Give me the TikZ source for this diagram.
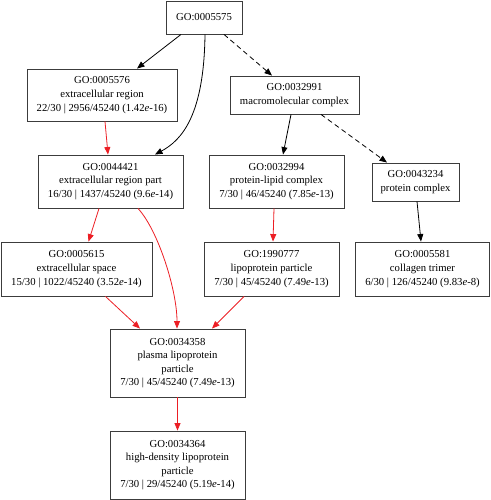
\documentclass[tikz,border=0pt]{standalone}
\usepackage{fontspec}
\setmainfont{Liberation Serif}
\usetikzlibrary{arrows.meta}
\definecolor{edgered}{RGB}{236,30,36}
\definecolor{boxgray}{RGB}{60,60,60}
\tikzset{
term/.style={draw=boxgray, line width=0.9pt, align=center, inner sep=0pt,
  font=\fontsize{10.7}{13.6}\selectfont},
isa/.style={-{Triangle[length=7.5pt,width=6pt]}, line width=0.8pt, black},
partof/.style={isa, dash pattern=on 5pt off 3.5pt},
hit/.style={isa, edgered}
}

\begin{document}
\begin{tikzpicture}[x=1pt,y=-1pt]
  \useasboundingbox (0,0) rectangle (490,500);
  \node[term, minimum width=76pt, minimum height=33pt] (go5575) at (204,17.5) {GO:0005575};
  \node[term, minimum width=150pt, minimum height=52pt] (go5576) at (102,95) {GO:0005576\\extracellular region\\22/30 | 2956/45240 (1.42\textit{e}-16)};
  \node[term, minimum width=129pt, minimum height=38pt] (go32991) at (294.5,95) {GO:0032991\\macromolecular complex};
  \node[term, minimum width=145pt, minimum height=53pt] (go44421) at (110.5,181.5) {GO:0044421\\extracellular region part\\16/30 | 1437/45240 (9.6\textit{e}-14)};
  \node[term, minimum width=135pt, minimum height=53pt] (go32994) at (276.5,181.5) {GO:0032994\\protein-lipid complex\\7/30 | 46/45240 (7.85\textit{e}-13)};
  \node[term, minimum width=87pt, minimum height=38pt] (go43234) at (415.5,182) {GO:0043234\\protein complex};
  \node[term, minimum width=151pt, minimum height=54pt] (go5615) at (76.5,269) {GO:0005615\\extracellular space\\15/30 | 1022/45240 (3.52\textit{e}-14)};
  \node[term, minimum width=135pt, minimum height=54pt] (go1990777) at (271.5,269) {GO:1990777\\lipoprotein particle\\7/30 | 45/45240 (7.49\textit{e}-13)};
  \node[term, minimum width=134pt, minimum height=54pt] (go5581) at (422.5,269) {GO:0005581\\collagen trimer\\6/30 | 126/45240 (9.83\textit{e}-8)};
  \node[term, minimum width=135pt, minimum height=68pt] (go34358) at (177.5,363) {GO:0034358\\plasma lipoprotein\\particle\\7/30 | 45/45240 (7.49\textit{e}-13)};
  \node[term, minimum width=135pt, minimum height=68pt] (go34364) at (177.5,465) {GO:0034364\\high-density lipoprotein\\particle\\7/30 | 29/45240 (5.19\textit{e}-14)};
  % black and dashed edges
  \draw[isa] ([xshift=-23pt]go5575.south) -- ([xshift=35pt]go5576.north);
  \draw[isa] ([xshift=1pt]go5575.south) .. controls (204,115) and (182,140) .. ([xshift=44.5pt]go44421.north);
  \draw[partof] ([xshift=20pt]go5575.south) -- ([xshift=-22.5pt]go32991.north);
  \draw[isa] ([xshift=-3.5pt]go32991.south) -- ([xshift=6.5pt]go32994.north);
  \draw[partof] ([xshift=26.5pt]go32991.south) -- ([xshift=-28.5pt]go43234.north);
  \draw[isa] ([xshift=1.5pt]go43234.south) -- ([xshift=-1.5pt]go5581.north);
  % red edges
  \draw[hit] ([xshift=3pt]go5576.south) -- ([xshift=-2.5pt]go44421.north);
  \draw[hit] ([xshift=-11.5pt]go44421.south) -- ([xshift=12pt]go5615.north);
  \draw[hit] ([xshift=27.5pt]go44421.south) .. controls (158,230) and (177,290) .. ([xshift=-0.5pt]go34358.north);
  \draw[hit] ([xshift=-2.5pt]go32994.south) -- ([xshift=1.5pt]go1990777.north);
  \draw[hit] ([xshift=29pt]go5615.south) -- ([xshift=-37.5pt]go34358.north);
  \draw[hit] ([xshift=-27.5pt]go1990777.south) -- ([xshift=34.5pt]go34358.north);
  \draw[hit] (go34358) -- (go34364);
\end{tikzpicture}
\end{document}
